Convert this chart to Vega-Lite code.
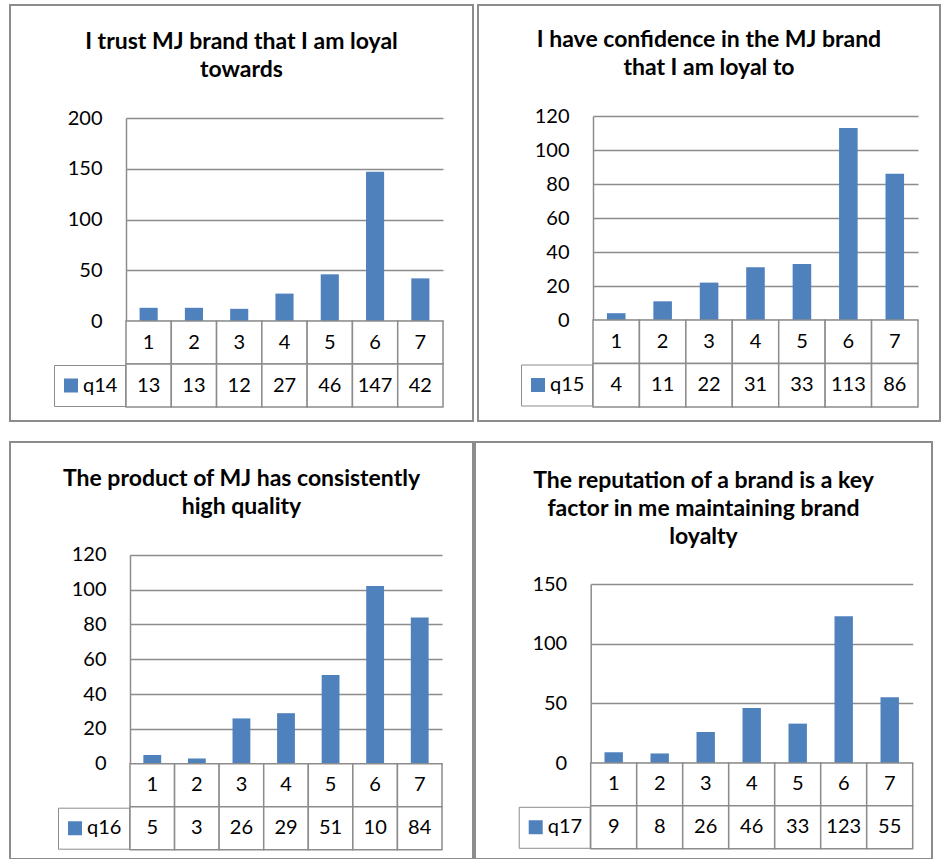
{
  "$schema": "https://vega.github.io/schema/vega-lite/v6.json",
  "padding": {"left": 9, "top": 4, "right": 0, "bottom": 0},
  "config": {
    "font": "Lato",
    "view": {"stroke": "#8c8c8c", "strokeWidth": 2},
    "axis": {
      "labelFont": "Lato", "labelFontSize": 20, "labelColor": "#000000",
      "ticks": false, "tickSize": 0, "labelPadding": 24,
      "domainColor": "#8c8c8c", "domainWidth": 1.5,
      "gridColor": "#8c8c8c", "gridWidth": 1.5, "title": null
    },
    "title": {"font": "Lato", "fontSize": 23, "fontWeight": "bold", "color": "#000000", "lineHeight": 28, "anchor": "middle", "frame": "group"},
    "legend": {
      "title": null, "symbolType": "square", "symbolSize": 196, "symbolStrokeWidth": 0,
      "labelFont": "Lato", "labelFontSize": 20, "labelColor": "#000000", "labelOffset": 2,
      "padding": 7, "clipHeight": 27, "strokeColor": "#8c8c8c"
    },
    "text": {"font": "Lato", "fontSize": 20, "color": "#000000"}
  },
  "spacing": 19,
  "resolve": {"scale": {"color": "independent"}},
  "vconcat": [
    {
      "spacing": 3,
      "resolve": {"scale": {"color": "independent"}},
      "hconcat": [
        {
          "width": 463, "height": 416,
          "title": {"text": ["I trust MJ brand that I am loyal", "towards"], "offset": -77},
          "data": {"values": [
            {"q": "q14", "cat": "1", "n": 13}, {"q": "q14", "cat": "2", "n": 13},
            {"q": "q14", "cat": "3", "n": 12}, {"q": "q14", "cat": "4", "n": 27},
            {"q": "q14", "cat": "5", "n": 46}, {"q": "q14", "cat": "6", "n": 147},
            {"q": "q14", "cat": "7", "n": 42}
          ]},
          "encoding": {
            "x": {"field": "cat", "type": "nominal", "axis": null,
                  "scale": {"type": "band", "domain": ["1","2","3","4","5","6","7"], "range": [116, 433], "paddingInner": 0, "paddingOuter": 0}}
          },
          "resolve": {"scale": {"y": "independent"}},
          "layer": [
            {
              "mark": {"type": "bar", "width": {"band": 0.4}},
              "encoding": {
                "y": {"field": "n", "type": "quantitative",
                      "scale": {"domain": [0, 200], "range": [316, 113], "nice": false},
                      "axis": {"offset": -116, "values": [0, 50, 100, 150, 200]}},
                "color": {"field": "q", "type": "nominal", "scale": {"range": ["#4F81BD"]},
                          "legend": {"orient": "none", "legendX": 44, "legendY": 360}}
              }
            },
            {
              "encoding": {},
              "layer": [
                {"mark": {"type": "rect", "fill": "#ffffff", "stroke": "#8c8c8c", "strokeWidth": 1.5},
                 "encoding": {"y": {"datum": "cat", "type": "nominal", "axis": null,
                   "scale": {"type": "band", "domain": ["cat", "val"], "range": [316, 402], "paddingInner": 0, "paddingOuter": 0}}}},
                {"mark": {"type": "rect", "fill": "#ffffff", "stroke": "#8c8c8c", "strokeWidth": 1.5},
                 "encoding": {"y": {"datum": "val", "type": "nominal", "axis": null}}},
                {"mark": {"type": "text"},
                 "encoding": {"y": {"datum": "cat", "type": "nominal", "axis": null}, "text": {"field": "cat"}}},
                {"mark": {"type": "text"},
                 "encoding": {"y": {"datum": "val", "type": "nominal", "axis": null}, "text": {"field": "n", "type": "quantitative"}}}
              ]
            }
          ]
        },
        {
          "width": 462, "height": 416,
          "title": {"text": ["I have confidence in the MJ brand", "that I am loyal to"], "offset": -75},
          "data": {"values": [
            {"q": "q15", "cat": "1", "n": 4}, {"q": "q15", "cat": "2", "n": 11},
            {"q": "q15", "cat": "3", "n": 22}, {"q": "q15", "cat": "4", "n": 31},
            {"q": "q15", "cat": "5", "n": 33}, {"q": "q15", "cat": "6", "n": 113},
            {"q": "q15", "cat": "7", "n": 86}
          ]},
          "encoding": {
            "x": {"field": "cat", "type": "nominal", "axis": null,
                  "scale": {"type": "band", "domain": ["1","2","3","4","5","6","7"], "range": [115, 440], "paddingInner": 0, "paddingOuter": 0}}
          },
          "resolve": {"scale": {"y": "independent"}},
          "layer": [
            {
              "mark": {"type": "bar", "width": {"band": 0.4}},
              "encoding": {
                "y": {"field": "n", "type": "quantitative",
                      "scale": {"domain": [0, 120], "range": [315, 111], "nice": false},
                      "axis": {"offset": -115, "values": [0, 20, 40, 60, 80, 100, 120]}},
                "color": {"field": "q", "type": "nominal", "scale": {"range": ["#4F81BD"]},
                          "legend": {"orient": "none", "legendX": 43, "legendY": 359.5}}
              }
            },
            {
              "encoding": {},
              "layer": [
                {"mark": {"type": "rect", "fill": "#ffffff", "stroke": "#8c8c8c", "strokeWidth": 1.5},
                 "encoding": {"y": {"datum": "cat", "type": "nominal", "axis": null,
                   "scale": {"type": "band", "domain": ["cat", "val"], "range": [315, 402], "paddingInner": 0, "paddingOuter": 0}}}},
                {"mark": {"type": "rect", "fill": "#ffffff", "stroke": "#8c8c8c", "strokeWidth": 1.5},
                 "encoding": {"y": {"datum": "val", "type": "nominal", "axis": null}}},
                {"mark": {"type": "text"},
                 "encoding": {"y": {"datum": "cat", "type": "nominal", "axis": null}, "text": {"field": "cat"}}},
                {"mark": {"type": "text"},
                 "encoding": {"y": {"datum": "val", "type": "nominal", "axis": null}, "text": {"field": "n", "type": "quantitative"}}}
              ]
            }
          ]
        }
      ]
    },
    {
      "spacing": 0,
      "resolve": {"scale": {"color": "independent"}},
      "hconcat": [
        {
          "width": 463, "height": 417,
          "title": {"text": ["The product of MJ has consistently", "high quality"], "offset": -77},
          "data": {"values": [
            {"q": "q16", "cat": "1", "n": 5}, {"q": "q16", "cat": "2", "n": 3},
            {"q": "q16", "cat": "3", "n": 26}, {"q": "q16", "cat": "4", "n": 29},
            {"q": "q16", "cat": "5", "n": 51}, {"q": "q16", "cat": "6", "n": 102},
            {"q": "q16", "cat": "7", "n": 84}
          ]},
          "encoding": {
            "x": {"field": "cat", "type": "nominal", "axis": null,
                  "scale": {"type": "band", "domain": ["1","2","3","4","5","6","7"], "range": [120, 432], "paddingInner": 0, "paddingOuter": 0}}
          },
          "resolve": {"scale": {"y": "independent"}},
          "layer": [
            {
              "mark": {"type": "bar", "width": {"band": 0.4}},
              "encoding": {
                "y": {"field": "n", "type": "quantitative",
                      "scale": {"domain": [0, 120], "range": [321.7, 112.7], "nice": false},
                      "axis": {"offset": -120, "values": [0, 20, 40, 60, 80, 100, 120]}},
                "color": {"field": "q", "type": "nominal", "scale": {"range": ["#4F81BD"]},
                          "legend": {"orient": "none", "legendX": 48, "legendY": 365.7}}
              }
            },
            {
              "encoding": {},
              "layer": [
                {"mark": {"type": "rect", "fill": "#ffffff", "stroke": "#8c8c8c", "strokeWidth": 1.5},
                 "encoding": {"y": {"datum": "cat", "type": "nominal", "axis": null,
                   "scale": {"type": "band", "domain": ["cat", "val"], "range": [321.7, 407.7], "paddingInner": 0, "paddingOuter": 0}}}},
                {"mark": {"type": "rect", "fill": "#ffffff", "stroke": "#8c8c8c", "strokeWidth": 1.5},
                 "encoding": {"y": {"datum": "val", "type": "nominal", "axis": null}}},
                {"mark": {"type": "text"},
                 "encoding": {"y": {"datum": "cat", "type": "nominal", "axis": null}, "text": {"field": "cat"}}},
                {"mark": {"type": "text", "limit": 30, "ellipsis": "\u200b"},
                 "encoding": {"y": {"datum": "val", "type": "nominal", "axis": null}, "text": {"field": "n", "type": "quantitative"}}}
              ]
            }
          ]
        },
        {
          "width": 457, "height": 417,
          "title": {"text": ["The reputation of a brand is a key", "factor in me maintaining brand", "loyalty"], "offset": -107},
          "data": {"values": [
            {"q": "q17", "cat": "1", "n": 9}, {"q": "q17", "cat": "2", "n": 8},
            {"q": "q17", "cat": "3", "n": 26}, {"q": "q17", "cat": "4", "n": 46},
            {"q": "q17", "cat": "5", "n": 33}, {"q": "q17", "cat": "6", "n": 123},
            {"q": "q17", "cat": "7", "n": 55}
          ]},
          "encoding": {
            "x": {"field": "cat", "type": "nominal", "axis": null,
                  "scale": {"type": "band", "domain": ["1","2","3","4","5","6","7"], "range": [115.7, 437.7], "paddingInner": 0, "paddingOuter": 0}}
          },
          "resolve": {"scale": {"y": "independent"}},
          "layer": [
            {
              "mark": {"type": "bar", "width": {"band": 0.4}},
              "encoding": {
                "y": {"field": "n", "type": "quantitative",
                      "scale": {"domain": [0, 150], "range": [321, 142], "nice": false},
                      "axis": {"offset": -115.7, "values": [0, 50, 100, 150]}},
                "color": {"field": "q", "type": "nominal", "scale": {"range": ["#4F81BD"]},
                          "legend": {"orient": "none", "legendX": 43.7, "legendY": 364.8}}
              }
            },
            {
              "encoding": {},
              "layer": [
                {"mark": {"type": "rect", "fill": "#ffffff", "stroke": "#8c8c8c", "strokeWidth": 1.5},
                 "encoding": {"y": {"datum": "cat", "type": "nominal", "axis": null,
                   "scale": {"type": "band", "domain": ["cat", "val"], "range": [321, 406.7], "paddingInner": 0, "paddingOuter": 0}}}},
                {"mark": {"type": "rect", "fill": "#ffffff", "stroke": "#8c8c8c", "strokeWidth": 1.5},
                 "encoding": {"y": {"datum": "val", "type": "nominal", "axis": null}}},
                {"mark": {"type": "text"},
                 "encoding": {"y": {"datum": "cat", "type": "nominal", "axis": null}, "text": {"field": "cat"}}},
                {"mark": {"type": "text"},
                 "encoding": {"y": {"datum": "val", "type": "nominal", "axis": null}, "text": {"field": "n", "type": "quantitative"}}}
              ]
            }
          ]
        }
      ]
    }
  ]
}
